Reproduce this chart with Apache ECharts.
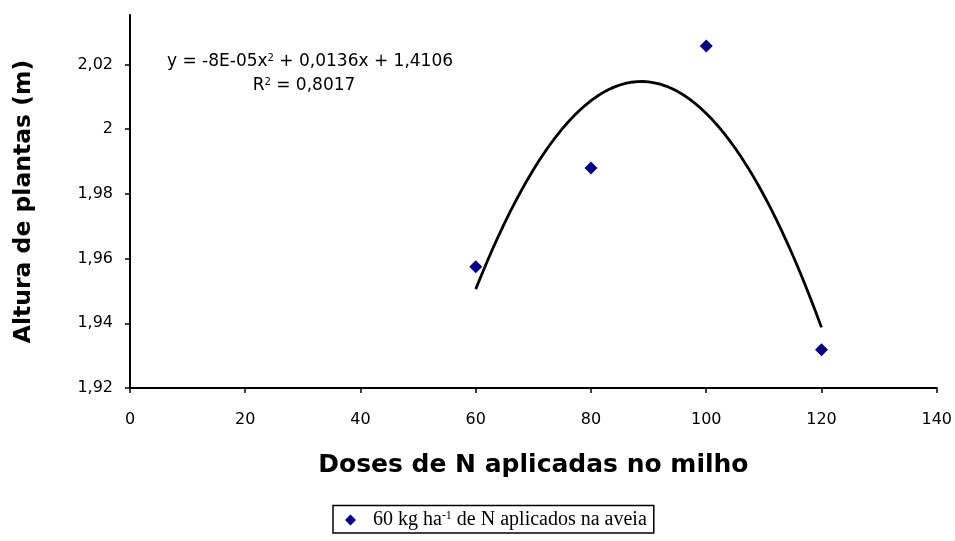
<!DOCTYPE html>
<html>
<head>
<meta charset="utf-8">
<script src="https://cdn.jsdelivr.net/npm/echarts@6/dist/echarts.min.js"></script>
<style>
  html, body { margin: 0; padding: 0; background: #fff; }
  #chart { width: 955px; height: 541px; }
</style>
</head>
<body>
<div id="chart"></div>
<script>
// N doses applied to maize (kg/ha) and measured plant height (m)
const doses = [60, 80, 100, 120];
const heights = [1.9575, 1.988, 2.0257, 1.9318];
const xTicks = [0, 20, 40, 60, 80, 100, 120, 140];
const yTicks = [1.92, 1.94, 1.96, 1.98, 2.00, 2.02];
const seriesName = '60 kg ha-1 de N aplicados na aveia';
const equationLine = 'y = -8E-05x{sup|2} + 0,0136x + 1,4106';
const r2Line = 'R{sup|2} = 0,8017';

// Second-order polynomial trendline fitted by least squares to the data
function quadFit(xs, ys) {
  const n = xs.length;
  const s = [0, 0, 0, 0, 0], t = [0, 0, 0];
  for (let i = 0; i < n; i++) {
    for (let k = 0; k < 5; k++) s[k] += Math.pow(xs[i], k);
    for (let k = 0; k < 3; k++) t[k] += ys[i] * Math.pow(xs[i], k);
  }
  const A = [[s[0], s[1], s[2], t[0]], [s[1], s[2], s[3], t[1]], [s[2], s[3], s[4], t[2]]];
  for (let c = 0; c < 3; c++) {
    for (let r = c + 1; r < 3; r++) {
      const f = A[r][c] / A[c][c];
      for (let k = c; k < 4; k++) A[r][k] -= f * A[c][k];
    }
  }
  const b = [0, 0, 0];
  for (let r = 2; r >= 0; r--) {
    let v = A[r][3];
    for (let k = r + 1; k < 3; k++) v -= A[r][k] * b[k];
    b[r] = v / A[r][r];
  }
  return b; // [c0, c1, c2]
}
const coef = quadFit(doses, heights);
const trend = [];
for (let x = doses[0]; x <= doses[doses.length - 1] + 1e-9; x += 1) {
  trend.push([x, coef[0] + coef[1] * x + coef[2] * x * x]);
}

const fmtY = v => {
  const s = (+v).toFixed(2).replace(/\.?0+$/, '');
  return s.replace('.', ',');
};

const tickFont = { color: '#000', fontFamily: 'DejaVu Sans', fontSize: 16 };
const titleFont = { fontFamily: 'DejaVu Sans', fontWeight: 'bold', color: '#000' };
const supStyle = { fontFamily: 'DejaVu Sans', fontSize: 10, verticalAlign: 'top', padding: [0, 0, 7, 0] };

const chart = echarts.init(document.getElementById('chart'), null, { renderer: 'canvas' });
chart.setOption({
  animation: false,
  backgroundColor: '#ffffff',
  grid: { left: 130, right: 18, top: 15, bottom: 153, containLabel: false },
  xAxis: {
    type: 'value', min: 0, max: 140, interval: 20,
    name: 'Doses de N aplicadas no milho',
    nameLocation: 'middle', nameGap: 65,
    nameTextStyle: Object.assign({ fontSize: 25 }, titleFont),
    axisLine: { show: true, onZero: false, lineStyle: { color: '#000', width: 2 } },
    axisTick: { show: true, length: 5, inside: false, lineStyle: { color: '#000', width: 1.5 } },
    axisLabel: Object.assign({ margin: 24 }, tickFont),
    splitLine: { show: false }
  },
  yAxis: {
    type: 'value', min: 1.92, max: 2.0353,
    name: 'Altura de plantas (m)',
    nameLocation: 'middle', nameGap: 94, nameRotate: 90,
    nameTextStyle: Object.assign({ fontSize: 23.5 }, titleFont),
    axisLine: { show: true, lineStyle: { color: '#000', width: 2 } },
    axisTick: { show: true, length: 5, customValues: yTicks, lineStyle: { color: '#000', width: 1.5 } },
    axisLabel: Object.assign({ margin: 17, customValues: yTicks, formatter: fmtY }, tickFont),
    splitLine: { show: false }
  },
  legend: {
    show: true, bottom: 8, left: 333,
    data: [{ name: seriesName, icon: 'diamond' }],
    itemWidth: 11, itemHeight: 11, itemGap: 10,
    borderColor: '#000', borderWidth: 1.5, padding: [4, 7, 3, 12],
    formatter: () => '{g|}60 kg ha{sup|-1} de N aplicados na aveia',
    textStyle: {
      fontFamily: 'Liberation Serif', fontSize: 20, color: '#000',
      rich: {
        g: { width: 12 },
        sup: { fontFamily: 'Liberation Serif', fontSize: 12, verticalAlign: 'top', padding: [0, 0, 9, 0] }
      }
    }
  },
  graphic: [
    {
      type: 'text', x: 310, y: 62,
      style: {
        text: equationLine, fontFamily: 'DejaVu Sans', fontSize: 17, fill: '#000',
        align: 'center', verticalAlign: 'middle', rich: { sup: supStyle }
      }
    },
    {
      type: 'text', x: 304, y: 86,
      style: {
        text: r2Line, fontFamily: 'DejaVu Sans', fontSize: 17, fill: '#000',
        align: 'center', verticalAlign: 'middle', rich: { sup: supStyle }
      }
    }
  ],
  series: [
    {
      name: seriesName, type: 'scatter', data: doses.map((d, i) => [d, heights[i]]),
      symbol: 'diamond', symbolSize: 13, itemStyle: { color: '#000080', opacity: 1 }, z: 3
    },
    {
      name: 'trend', type: 'line', data: trend, showSymbol: false, smooth: false,
      lineStyle: { color: '#000', width: 2.8 }, z: 2
    }
  ]
});
</script>
</body>
</html>
